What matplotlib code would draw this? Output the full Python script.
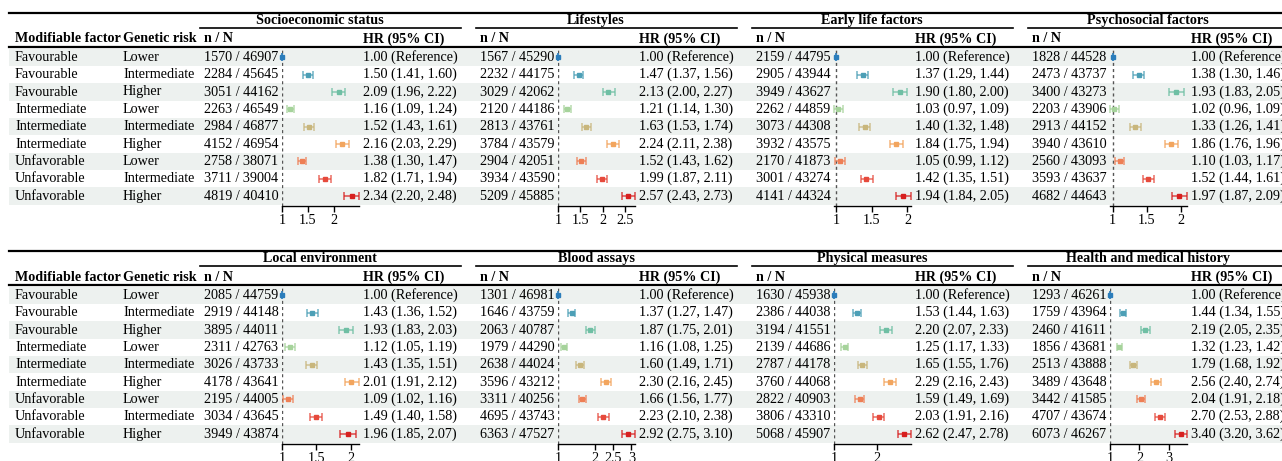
import numpy as np
import matplotlib
matplotlib.use("Agg")
import matplotlib.pyplot as plt
from matplotlib.patches import Rectangle

plt.rcParams['font.family'] = ['Liberation Serif', 'DejaVu Serif']
FS = 10.2

# ---- data ----
mod_factor = ["Favourable", "Favourable", "Favourable",
              "Intermediate", "Intermediate", "Intermediate",
              "Unfavorable", "Unfavorable", "Unfavorable"]
gen_risk = ["Lower", "Intermediate", "Higher",
            "Lower", "Intermediate", "Higher",
            "Lower", "Intermediate", "Higher"]

ses_nN = ["1570 / 46907", "2284 / 45645", "3051 / 44162", "2263 / 46549", "2984 / 46877",
          "4152 / 46954", "2758 / 38071", "3711 / 39004", "4819 / 40410"]
ses_hr = [1.00, 1.50, 2.09, 1.16, 1.52, 2.16, 1.38, 1.82, 2.34]
ses_lo = [1.00, 1.41, 1.96, 1.09, 1.43, 2.03, 1.30, 1.71, 2.20]
ses_hi = [1.00, 1.60, 2.22, 1.24, 1.61, 2.29, 1.47, 1.94, 2.48]

life_nN = ["1567 / 45290", "2232 / 44175", "3029 / 42062", "2120 / 44186", "2813 / 43761",
           "3784 / 43579", "2904 / 42051", "3934 / 43590", "5209 / 45885"]
life_hr = [1.00, 1.47, 2.13, 1.21, 1.63, 2.24, 1.52, 1.99, 2.57]
life_lo = [1.00, 1.37, 2.00, 1.14, 1.53, 2.11, 1.43, 1.87, 2.43]
life_hi = [1.00, 1.56, 2.27, 1.30, 1.74, 2.38, 1.62, 2.11, 2.73]

early_nN = ["2159 / 44795", "2905 / 43944", "3949 / 43627", "2262 / 44859", "3073 / 44308",
            "3932 / 43575", "2170 / 41873", "3001 / 43274", "4141 / 44324"]
early_hr = [1.00, 1.37, 1.90, 1.03, 1.40, 1.84, 1.05, 1.42, 1.94]
early_lo = [1.00, 1.29, 1.80, 0.97, 1.32, 1.75, 0.99, 1.35, 1.84]
early_hi = [1.00, 1.44, 2.00, 1.09, 1.48, 1.94, 1.12, 1.51, 2.05]

psy_nN = ["1828 / 44528", "2473 / 43737", "3400 / 43273", "2203 / 43906", "2913 / 44152",
          "3940 / 43610", "2560 / 43093", "3593 / 43637", "4682 / 44643"]
psy_hr = [1.00, 1.38, 1.93, 1.02, 1.33, 1.86, 1.10, 1.52, 1.97]
psy_lo = [1.00, 1.30, 1.83, 0.96, 1.26, 1.76, 1.03, 1.44, 1.87]
psy_hi = [1.00, 1.46, 2.05, 1.09, 1.41, 1.96, 1.17, 1.61, 2.09]

loc_nN = ["2085 / 44759", "2919 / 44148", "3895 / 44011", "2311 / 42763", "3026 / 43733",
          "4178 / 43641", "2195 / 44005", "3034 / 43645", "3949 / 43874"]
loc_hr = [1.00, 1.43, 1.93, 1.12, 1.43, 2.01, 1.09, 1.49, 1.96]
loc_lo = [1.00, 1.36, 1.83, 1.05, 1.35, 1.91, 1.02, 1.40, 1.85]
loc_hi = [1.00, 1.52, 2.03, 1.19, 1.51, 2.12, 1.16, 1.58, 2.07]

blood_nN = ["1301 / 46981", "1646 / 43759", "2063 / 40787", "1979 / 44290", "2638 / 44024",
            "3596 / 43212", "3311 / 40256", "4695 / 43743", "6363 / 47527"]
blood_hr = [1.00, 1.37, 1.87, 1.16, 1.60, 2.30, 1.66, 2.23, 2.92]
blood_lo = [1.00, 1.27, 1.75, 1.08, 1.49, 2.16, 1.56, 2.10, 2.75]
blood_hi = [1.00, 1.47, 2.01, 1.25, 1.71, 2.45, 1.77, 2.38, 3.10]

phys_nN = ["1630 / 45938", "2386 / 44038", "3194 / 41551", "2139 / 44686", "2787 / 44178",
           "3760 / 44068", "2822 / 40903", "3806 / 43310", "5068 / 45907"]
phys_hr = [1.00, 1.53, 2.20, 1.25, 1.65, 2.29, 1.59, 2.03, 2.62]
phys_lo = [1.00, 1.44, 2.07, 1.17, 1.55, 2.16, 1.49, 1.91, 2.47]
phys_hi = [1.00, 1.63, 2.33, 1.33, 1.76, 2.43, 1.69, 2.16, 2.78]

health_nN = ["1293 / 46261", "1759 / 43964", "2460 / 41611", "1856 / 43681", "2513 / 43888",
             "3489 / 43648", "3442 / 41585", "4707 / 43674", "6073 / 46267"]
health_hr = [1.00, 1.44, 2.19, 1.32, 1.79, 2.56, 2.04, 2.70, 3.40]
health_lo = [1.00, 1.34, 2.05, 1.23, 1.68, 2.40, 1.91, 2.53, 3.20]
health_hi = [1.00, 1.55, 2.35, 1.42, 1.92, 2.74, 2.18, 2.88, 3.62]

titles_top = ["Socioeconomic status", "Lifestyles", "Early life factors", "Psychosocial factors"]
titles_bot = ["Local environment", "Blood assays", "Physical measures", "Health and medical history"]

ticks_top = [[1, 1.5, 2], [1, 1.5, 2, 2.5], [1, 1.5, 2], [1, 1.5, 2]]
ticks_bot = [[1, 1.5, 2], [1, 2, 2.5, 3], [1, 2], [1, 2, 3]]

colors = ["#2B7DBB", "#4C9FB6", "#6FBFA4", "#A6D39B", "#C8B67C",
          "#F2A55E", "#EE7F55", "#E64A3C", "#D7201F"]

panels = [
    (0, [(ses_nN, ses_hr, ses_lo, ses_hi), (life_nN, life_hr, life_lo, life_hi),
         (early_nN, early_hr, early_lo, early_hi), (psy_nN, psy_hr, psy_lo, psy_hi)],
     titles_top, ticks_top),
    (238, [(loc_nN, loc_hr, loc_lo, loc_hi), (blood_nN, blood_hr, blood_lo, blood_hi),
           (phys_nN, phys_hr, phys_lo, phys_hi), (health_nN, health_hr, health_lo, health_hi)],
     titles_bot, ticks_bot),
]

# ---- layout (pixels) ----
W, H = 1282, 461
fig = plt.figure(figsize=(W / 100, H / 100), dpi=100)
ax0 = fig.add_axes([0, 0, 1, 1])
ax0.set_xlim(0, W)
ax0.set_ylim(H, 0)
ax0.axis('off')

row0 = 57.3
dy = 17.35
gstep = 276

for off, groups, titles, ticks in panels:
    yrows = [off + row0 + i * dy for i in range(9)]
    # shading
    for i, yc in enumerate(yrows):
        if i % 2 == 0:
            ax0.add_patch(Rectangle((9, yc - dy / 2), W - 9, dy, color="#EDF1EF", lw=0, zorder=0))
    # lines
    ax0.plot([9, W], [off + 13, off + 13], color="black", lw=1.6, zorder=2)
    ax0.plot([9, W], [off + 47, off + 47], color="black", lw=1.6, zorder=2)
    # fixed headers
    ax0.text(15, off + 39, "Modifiable factor", fontsize=FS, fontweight='bold', va='center')
    ax0.text(123, off + 39, "Genetic risk", fontsize=FS, fontweight='bold', va='center')
    for i, yc in enumerate(yrows):
        ax0.text(15, yc, mod_factor[i], fontsize=FS, va='center')
        ax0.text(123, yc, gen_risk[i], fontsize=FS, va='center')

    for g, (nN, hr, lo, hi) in enumerate(groups):
        gx = g * gstep
        ax0.plot([200 + gx, 461 + gx], [off + 28, off + 28], color="black", lw=1.2)
        ax0.text(320 + gx, off + 20.5, titles[g], fontsize=FS, fontweight='bold',
                 ha='center', va='center')
        ax0.text(204 + gx, off + 39, "n / N", fontsize=FS, fontweight='bold', va='center')
        ax0.text(363 + gx, off + 39, "HR (95% CI)", fontsize=FS, fontweight='bold', va='center')
        for i, yc in enumerate(yrows):
            ax0.text(204 + gx, yc, nN[i], fontsize=FS, va='center')
            if i == 0:
                lab = f"{hr[i]:.2f} (Reference)"
            else:
                lab = f"{hr[i]:.2f} ({lo[i]:.2f}, {hi[i]:.2f})"
            ax0.text(363 + gx, yc, lab, fontsize=FS, va='center')

        # forest axis
        left, width = 282 + gx, 77
        top, bot = off + 48, off + 206
        ax = fig.add_axes([left / W, 1 - bot / H, width / W, (bot - top) / H])
        ax.set_facecolor('none')
        ax.set_ylim(bot, top)
        ax.set_xlim(min(lo), max(hi))
        ax.axvline(1, color="#555555", lw=1.0, ls=(0, (2.2, 2.2)), zorder=1)
        for i, yc in enumerate(yrows):
            ax.errorbar(hr[i], yc, xerr=[[hr[i] - lo[i]], [hi[i] - hr[i]]], fmt='none',
                        ecolor=colors[i], alpha=0.8, elinewidth=1.1, capsize=2.8,
                        capthick=1.1, clip_on=False, zorder=3)
            ax.plot(hr[i], yc, marker='s', ms=3.2, color=colors[i], mec=colors[i],
                    clip_on=False, zorder=4)
        for s in ['top', 'left', 'right']:
            ax.spines[s].set_visible(False)
        ax.spines['bottom'].set_linewidth(1.0)
        ax.set_yticks([])
        ax.set_xticks(ticks[g])
        ax.set_xticklabels([f"{t:g}" for t in ticks[g]], fontsize=FS)
        ax.tick_params(axis='x', length=4, width=1.0, pad=1.5)

fig.savefig("out.png", dpi=100)
